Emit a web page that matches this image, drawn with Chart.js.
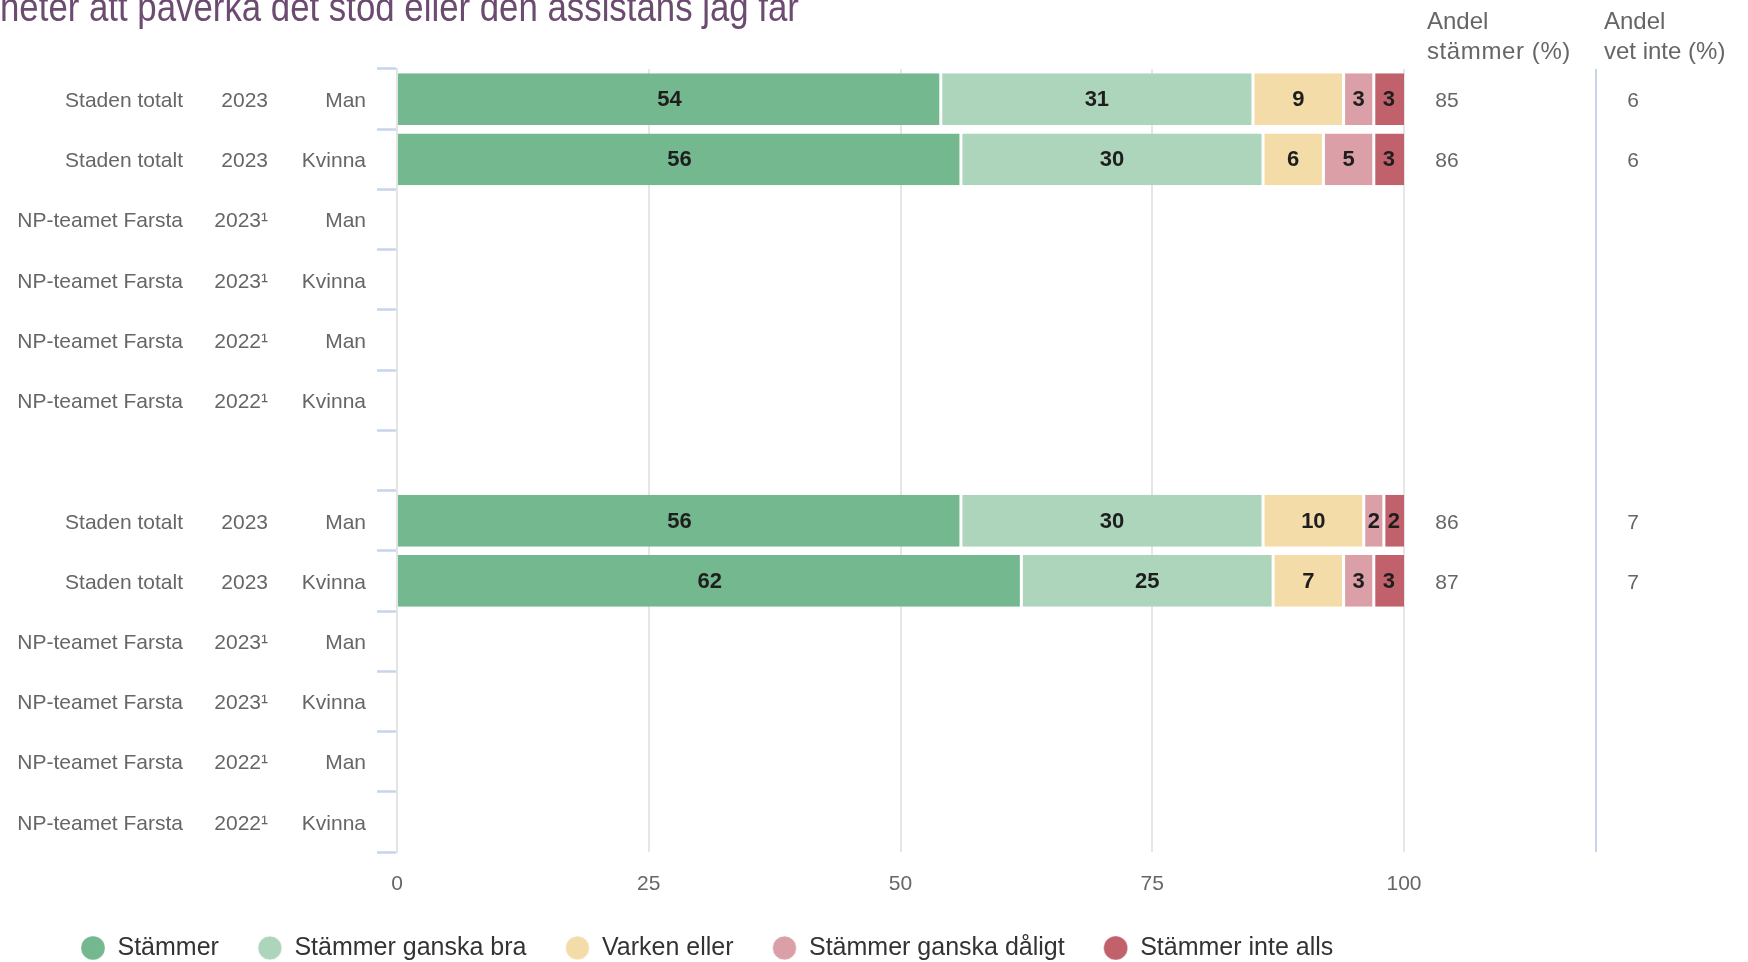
<!DOCTYPE html>
<html>
<head>
<meta charset="utf-8">
<script src="https://cdn.jsdelivr.net/npm/chart.js@4"></script>
<style>
  html, body { margin: 0; padding: 0; background: #fff; }
  #wrap { width: 1748px; height: 962px; position: relative; }
</style>
</head>
<body>
<div id="wrap"><canvas id="chart"></canvas></div>
<script>
// --- data ---
const units = ['Staden totalt', 'Staden totalt', 'NP-teamet Farsta', 'NP-teamet Farsta', 'NP-teamet Farsta', 'NP-teamet Farsta', '',
               'Staden totalt', 'Staden totalt', 'NP-teamet Farsta', 'NP-teamet Farsta', 'NP-teamet Farsta', 'NP-teamet Farsta'];
const years = ['2023', '2023', '2023¹', '2023¹', '2022¹', '2022¹', '',
               '2023', '2023', '2023¹', '2023¹', '2022¹', '2022¹'];
const genders = ['Man', 'Kvinna', 'Man', 'Kvinna', 'Man', 'Kvinna', '',
                 'Man', 'Kvinna', 'Man', 'Kvinna', 'Man', 'Kvinna'];

const stammer       = [54, 56, null, null, null, null, null, 56, 62, null, null, null, null];
const ganskaBra     = [31, 30, null, null, null, null, null, 30, 25, null, null, null, null];
const varkenEller   = [ 9,  6, null, null, null, null, null, 10,  7, null, null, null, null];
const ganskaDaligt  = [ 3,  5, null, null, null, null, null,  2,  3, null, null, null, null];
const inteAlls      = [ 3,  3, null, null, null, null, null,  2,  3, null, null, null, null];

const andelStammer  = [85, 86, null, null, null, null, null, 86, 87, null, null, null, null];
const andelVetInte  = [ 6,  6, null, null, null, null, null,  7,  7, null, null, null, null];

const xTicks = [0, 25, 50, 75, 100];

const FONT = "'Liberation Sans', Arial, Helvetica, sans-serif";
const GREY = '#666666';

// rows drawn with category index as key
const rowKeys = units.map((u, i) => i);

// Texts beside the bars: three label columns on the left, two value columns on the right
const sidePlugin = {
  id: 'side',
  afterDraw(chart) {
    const { ctx } = chart;
    const y = chart.scales.y;
    ctx.save();

    // title (cut off at the top of the image, as in the source)
    ctx.save();
    ctx.fillStyle = '#6b4b70';
    ctx.font = `40px ${FONT}`;
    ctx.textAlign = 'left';
    ctx.textBaseline = 'alphabetic';
    ctx.scale(0.87, 1);
    ctx.fillText('heter att påverka det stöd eller den assistans jag får', 0, 21);
    ctx.restore();

    // headers of the right columns
    ctx.fillStyle = GREY;
    ctx.font = `24px ${FONT}`;
    ctx.textAlign = 'left';
    ctx.textBaseline = 'alphabetic';
    ctx.fillText('Andel', 1427, 29);
    ctx.letterSpacing = '0.6px';
    ctx.fillText('stämmer (%)', 1427, 59);
    ctx.letterSpacing = '0px';
    ctx.fillText('Andel', 1604, 29);
    ctx.fillText('vet inte (%)', 1604, 59);

    // divider between the two right columns
    ctx.strokeStyle = '#c8d4ea';
    ctx.lineWidth = 2;
    ctx.beginPath();
    ctx.moveTo(1596, chart.chartArea.top);
    ctx.lineTo(1596, chart.chartArea.bottom);
    ctx.stroke();

    // row labels
    ctx.font = `21px ${FONT}`;
    ctx.textBaseline = 'middle';
    rowKeys.forEach(i => {
      const py = y.getPixelForValue(i) + 2;
      ctx.textAlign = 'right';
      ctx.fillText(units[i], 183, py);
      ctx.fillText(years[i], 268, py);
      ctx.fillText(genders[i], 366, py);
      ctx.textAlign = 'center';
      if (andelStammer[i] != null) ctx.fillText(String(andelStammer[i]), 1447, py);
      if (andelVetInte[i] != null) ctx.fillText(String(andelVetInte[i]), 1633, py);
    });
    ctx.restore();
  }
};

// Value labels in the middle of each segment
const barLabels = {
  id: 'barLabels',
  afterDatasetsDraw(chart) {
    const { ctx } = chart;
    ctx.save();
    ctx.font = `bold 22px ${FONT}`;
    ctx.fillStyle = '#1e1e1e';
    ctx.textAlign = 'center';
    ctx.textBaseline = 'middle';
    chart.data.datasets.forEach((ds, di) => {
      const meta = chart.getDatasetMeta(di);
      meta.data.forEach((bar, i) => {
        const v = ds.data[i];
        if (v == null) return;
        const c = bar.getCenterPoint();
        ctx.fillText(String(v), c.x, c.y + 1);
      });
    });
    ctx.restore();
  }
};

// white gaps between segments: half on each side, none at the outer ends
const mkSet = (label, data, color, first, last) => ({
  label, data,
  backgroundColor: color,
  borderColor: '#ffffff',
  borderWidth: { left: first ? 0 : 1.5, right: last ? 0 : 1.5, top: 0, bottom: 0 },
  borderSkipped: false,
  barPercentage: 0.86,
  categoryPercentage: 1
});

new Chart(document.getElementById('chart'), {
  type: 'bar',
  data: {
    labels: rowKeys,
    datasets: [
      mkSet('Stämmer', stammer, '#74b88f', true, false),
      mkSet('Stämmer ganska bra', ganskaBra, '#acd5bc'),
      mkSet('Varken eller', varkenEller, '#f4dca9'),
      mkSet('Stämmer ganska dåligt', ganskaDaligt, '#dba0a7'),
      mkSet('Stämmer inte alls', inteAlls, '#c0616b', false, true)
    ]
  },
  options: {
    indexAxis: 'y',
    responsive: true,
    maintainAspectRatio: false,
    animation: false,
    layout: { padding: { top: 69, right: 344, left: 42, bottom: -8.5 } },
    scales: {
      x: {
        stacked: true,
        min: 0, max: 100,
        afterBuildTicks: s => { s.ticks = xTicks.map(v => ({ value: v })); },
        afterFit: s => { s.height = 44.5; },
        grid: { color: '#e6e6e6', lineWidth: 2, drawTicks: false },
        border: { display: false },
        ticks: { padding: 20, color: GREY, font: { family: FONT, size: 21 } }
      },
      y: {
        stacked: true,
        afterFit: s => { s.width = 355; },
        grid: {
          offset: true,
          drawOnChartArea: false,
          drawTicks: true,
          tickLength: 20,
          tickColor: '#c8d4ea',
          tickWidth: 2.5
        },
        border: { display: true, color: '#e4e4e4', width: 2 },
        ticks: { display: false }
      }
    },
    plugins: {
      tooltip: { enabled: false },
      legend: {
        position: 'bottom',
        align: 'start',
        labels: {
          usePointStyle: true,
          pointStyle: 'circle',
          boxWidth: 24,
          boxHeight: 17,
          padding: 39,
          color: '#333333',
          font: { family: FONT, size: 25 }
        }
      }
    }
  },
  plugins: [barLabels, sidePlugin]
});
</script>
</body>
</html>
